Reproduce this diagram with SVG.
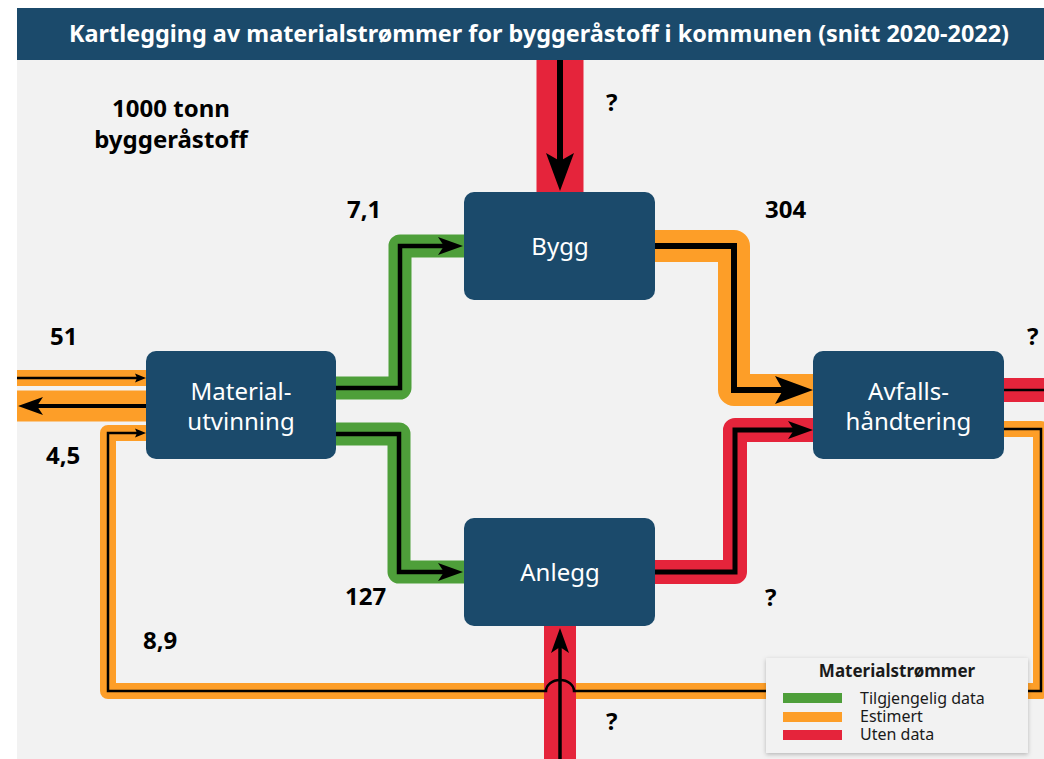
<svg xmlns="http://www.w3.org/2000/svg" width="1044" height="759" viewBox="0 0 1044 759">
<style>
  .bg{fill:#f2f2f2}
  .node rect{fill:#1b4a6b}
  .node text{fill:#ffffff;font-family:"Noto Sans","Open Sans",sans-serif;font-size:24px;text-anchor:middle}
  .band{fill:none;stroke-linejoin:round;stroke-linecap:butt}
  .g{stroke:#4e9f3a}
  .o{stroke:#fd9e28}
  .r{stroke:#e5243b}
  .ln{fill:none;stroke:#000;stroke-linejoin:miter;stroke-linecap:butt}
  .lbl{font-family:"Noto Sans","Open Sans",sans-serif;font-weight:bold;font-size:24px;fill:#000}
  .leg{font-family:"Noto Sans","Open Sans",sans-serif;font-size:16px;fill:#1a1a1a}
</style>
<defs>
  <marker id="aL" viewBox="-10 -16 44 32" refX="0" refY="0" markerWidth="44" markerHeight="32" orient="auto" markerUnits="userSpaceOnUse" overflow="visible">
    <path d="M30,0 L-8,-14 L0,0 L-8,14 Z" fill="#000"/>
  </marker>
  <marker id="aM" viewBox="-8 -11 30 22" refX="0" refY="0" markerWidth="30" markerHeight="22" orient="auto" markerUnits="userSpaceOnUse" overflow="visible">
    <path d="M19,0 L-6,-9 L0,0 L-6,9 Z" fill="#000"/>
  </marker>
  <marker id="aS" viewBox="-4 -6 15 12" refX="0" refY="0" markerWidth="15" markerHeight="12" orient="auto" markerUnits="userSpaceOnUse" overflow="visible">
    <path d="M9,0 L-2,-4.5 L0,0 L-2,4.5 Z" fill="#000"/>
  </marker>
  <filter id="sh" x="-10%" y="-10%" width="120%" height="130%">
    <feDropShadow dx="0" dy="1.5" stdDeviation="2" flood-color="#000" flood-opacity="0.25"/>
  </filter>
</defs>

<!-- background -->
<rect x="17" y="60" width="1027" height="699" class="bg"/>
<g id="title">
  <rect x="17" y="8" width="1027" height="52" fill="#1b4a6b"/>
  <text x="539" y="42" text-anchor="middle" textLength="940" lengthAdjust="spacingAndGlyphs" font-family="'Noto Sans','Open Sans',sans-serif" font-weight="bold" font-size="24" fill="#ffffff">Kartlegging av materialstrømmer for byggeråstoff i kommunen (snitt 2020-2022)</text>
</g>

<g id="connectors">
  <!-- bands -->
  <path class="band o" stroke-width="16" d="M1004,429 L1041,429 L1041,691 L108,691 L108,433 L146,433"/>
  <path class="band r" stroke-width="47" d="M560,60 L560,192"/>
  <path class="band r" stroke-width="32" d="M560,759 L560,626"/>
  <path class="band o" stroke-width="16" d="M17,378 L146,378"/>
  <path class="band o" stroke-width="31" d="M17,406 L146,406"/>
  <path class="band g" stroke-width="23" d="M336,388 L400,388 L400,246 L464,246"/>
  <path class="band g" stroke-width="23" d="M336,434 L399,434 L399,572 L464,572"/>
  <path class="band o" stroke-width="32" d="M655,246 L734,246 L734,390 L813,390"/>
  <path class="band r" stroke-width="24" d="M655,572 L735,572 L735,430 L813,430"/>
  <path class="band r" stroke-width="24" d="M1004,390 L1044,390"/>
  <!-- black flow lines -->
  <path class="ln" stroke-width="2.5" d="M1004,429 L1041,429 L1041,691 L574,691 A14,11 0 0 0 546,691 L108,691 L108,433 L137,433" marker-end="url(#aS)"/>
  <path class="ln" stroke-width="6" d="M560,60 L560,161" marker-end="url(#aL)"/>
  <path class="ln" stroke-width="3.5" d="M560,759 L560,647" marker-end="url(#aM)"/>
  <path class="ln" stroke-width="2.5" d="M17,378 L137,378" marker-end="url(#aS)"/>
  <path class="ln" stroke-width="4" d="M146,406 L37,406" marker-end="url(#aM)"/>
  <path class="ln" stroke-width="4.5" d="M336,388 L400,388 L400,246 L444,246" marker-end="url(#aM)"/>
  <path class="ln" stroke-width="4.5" d="M336,434 L399,434 L399,572 L444,572" marker-end="url(#aM)"/>
  <path class="ln" stroke-width="6" d="M655,246 L734,246 L734,390 L783,390" marker-end="url(#aL)"/>
  <path class="ln" stroke-width="5" d="M655,572 L735,572 L735,430 L794,430" marker-end="url(#aM)"/>
  <path class="ln" stroke-width="2.5" d="M1004,390 L1044,390"/>
</g>

<g id="node-bygg" class="node">
  <rect x="464" y="192" width="191" height="108" rx="10"/>
  <text x="560" y="255">Bygg</text>
</g>
<g id="node-materialutvinning" class="node">
  <rect x="146" y="351" width="190" height="108" rx="10"/>
  <text x="241" y="400">Material-</text>
  <text x="241" y="430">utvinning</text>
</g>
<g id="node-avfallshandtering" class="node">
  <rect x="813" y="351" width="191" height="108" rx="10"/>
  <text x="908.5" y="400">Avfalls-</text>
  <text x="908.5" y="430">håndtering</text>
</g>
<g id="node-anlegg" class="node">
  <rect x="464" y="518" width="191" height="108" rx="10"/>
  <text x="560" y="581">Anlegg</text>
</g>

<g id="labels" class="lbl">
  <text x="171" y="117" text-anchor="middle">1000 tonn</text>
  <text x="171" y="148" text-anchor="middle">byggeråstoff</text>
  <text x="606" y="111">?</text>
  <text x="347" y="218">7,1</text>
  <text x="765" y="218">304</text>
  <text x="50" y="345">51</text>
  <text x="1027" y="345">?</text>
  <text x="46" y="464">4,5</text>
  <text x="345" y="605">127</text>
  <text x="765" y="606">?</text>
  <text x="143" y="649">8,9</text>
  <text x="606" y="730">?</text>
</g>

<g id="legend">
  <rect x="766" y="658" width="262" height="95" fill="#f2f2f2" filter="url(#sh)"/>
  <text x="897" y="677" text-anchor="middle" font-family="'Noto Sans','Open Sans',sans-serif" font-weight="bold" font-size="17" fill="#1a1a1a">Materialstrømmer</text>
  <rect x="783" y="693" width="59" height="10" fill="#4e9f3a"/>
  <rect x="783" y="712" width="59" height="10" fill="#fd9e28"/>
  <rect x="783" y="730" width="59" height="10" fill="#e5243b"/>
  <text class="leg" x="860" y="704">Tilgjengelig data</text>
  <text class="leg" x="860" y="722">Estimert</text>
  <text class="leg" x="860" y="740">Uten data</text>
</g>
</svg>
